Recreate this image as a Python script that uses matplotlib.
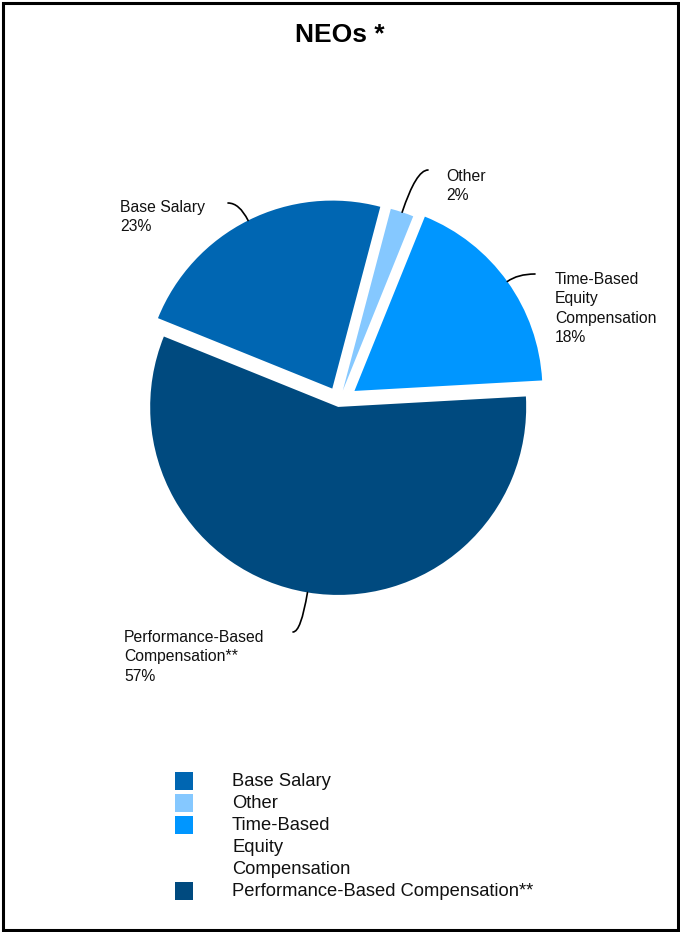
import numpy as np
import matplotlib.pyplot as plt
from matplotlib.patches import Rectangle

plt.rcParams['font.family'] = ['Liberation Sans', 'DejaVu Sans']

# data
names = ['Base Salary', 'Other', 'Time-Based Equity Compensation', 'Performance-Based Compensation**']
pie_labels = ['Base Salary', 'Other', 'Time-Based\nEquity\nCompensation', 'Performance-Based\nCompensation**']
legend_labels = ['Base Salary', 'Other', 'Time-Based\nEquity\nCompensation', 'Performance-Based Compensation**']
shares = [23, 2, 18, 57]
colors = ['#0066b2', '#85c8ff', '#0096ff', '#004a7f']

W, H = 680, 932
fig = plt.figure(figsize=(W / 100, H / 100), dpi=100)
ax = fig.add_axes([0, 0, 1, 1])

def py(y):
    # pixel row from the top -> data y
    return H - y

R = 188
wedges, _ = ax.pie(shares, colors=colors, startangle=158, counterclock=False,
                   center=(339, py(402)), radius=R, explode=[15, 12, 19, 5],
                   wedgeprops=dict(linewidth=0))
ax.set_xlim(0, W)
ax.set_ylim(0, H)
ax.set_aspect('equal')
ax.axis('off')

# label text (left x, cap top y) and where the leader ends next to the text
lab_pos = [(120, 200), (446, 169), (555, 272), (124, 630)]
lead_end = [(228, 203), (428, 170), (535, 274), (293, 632)]

for i, w in enumerate(wedges):
    th = np.deg2rad((w.theta1 + w.theta2) / 2)
    cx, cy = w.center
    anchor = (cx + w.r * np.cos(th), cy + w.r * np.sin(th))
    ex, ey = lead_end[i]
    angB = np.rad2deg(th)
    ax.annotate('', xy=anchor, xytext=(ex, py(ey)),
                arrowprops=dict(arrowstyle='-', color='black', lw=1.2,
                                shrinkA=0, shrinkB=0,
                                connectionstyle=f'angle3,angleA=0,angleB={angB:.1f}'))
    lx, ly = lab_pos[i]
    ax.text(lx, py(ly), f'{pie_labels[i]}\n{shares[i]}%', fontsize=11.3,
            ha='left', va='top', color='#111111', linespacing=1.36)

ax.text(340, py(42), 'NEOs *', fontsize=19, fontweight='bold', ha='center', va='baseline')

# legend
row = 0
for lab, c in zip(legend_labels, colors):
    top = 772 + 22 * row
    ax.add_patch(Rectangle((175, py(top + 18)), 18, 18, facecolor=c, edgecolor='none'))
    ax.text(232, py(top + 1), lab, fontsize=13.2, ha='left', va='top', color='#111111',
            linespacing=1.37)
    row += lab.count('\n') + 1

# frame round the picture
ax.add_patch(Rectangle((2.5, 2.5), W - 5, H - 5, fill=False, edgecolor='black', linewidth=2.2))

fig.savefig('out.png', dpi=100)
